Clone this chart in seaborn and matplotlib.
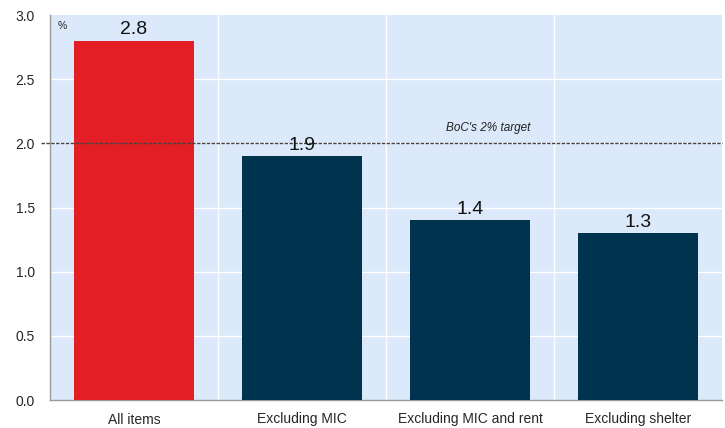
import matplotlib
matplotlib.use("Agg")
import matplotlib.pyplot as plt
import matplotlib.transforms as mtransforms
import seaborn as sns
import pandas as pd

categories = ["All items", "Excluding MIC", "Excluding MIC and rent", "Excluding shelter"]
values = [2.8, 1.9, 1.4, 1.3]
bar_colors = ["#E31E24", "#00334E", "#00334E", "#00334E"]
target = 2.0
y_ticks = [0.0, 0.5, 1.0, 1.5, 2.0, 2.5, 3.0]

sns.set_theme(style="white")
plt.rcParams["font.family"] = ["Liberation Sans", "DejaVu Sans"]

df = pd.DataFrame({"category": categories, "value": values})

fig = plt.figure(figsize=(7.25, 4.28), dpi=100)
ax = fig.add_axes([50 / 725, 1 - 400 / 428, 672 / 725, 385 / 428])
ax.set_facecolor("#DCE9FB")

sns.barplot(data=df, x="category", y="value", hue="category",
            palette=bar_colors, width=0.714, legend=False, ax=ax,
            saturation=1, zorder=3, linewidth=0, edgecolor="none")

ax.set_xlim(-0.5, len(categories) - 0.5)
ax.set_ylim(0, 3.0)
ax.set_yticks(y_ticks)
ax.set_yticklabels([f"{t:.1f}" for t in y_ticks], fontsize=10)

# category separators on the x axis
bounds = [i - 0.5 for i in range(len(categories) + 1)]
ax.set_xticks(bounds, minor=True)
ax.set_xticks(range(len(categories)))
ax.set_xticklabels(categories, fontsize=10)
ax.tick_params(axis="x", which="major", length=0, pad=9)
ax.tick_params(axis="x", which="minor", length=5, color="#999999", direction="out")
ax.tick_params(axis="y", length=5, color="#999999", direction="out", pad=6)
ax.set_xlabel("")
ax.set_ylabel("")

for b in bounds[1:-1]:
    ax.axvline(b, color="white", lw=1, zorder=1)
for t in y_ticks[1:-1]:
    ax.axhline(t, color="white", lw=1, zorder=1)

for s in ["top", "right"]:
    ax.spines[s].set_visible(False)
for s in ["left", "bottom"]:
    ax.spines[s].set_color("#999999")
    ax.spines[s].set_linewidth(1)

# inflation target line, running out over the tick marks
trans = mtransforms.blended_transform_factory(ax.transAxes, ax.transData)
ax.plot([-0.013, 1.0], [target, target], transform=trans, color="#444444",
        lw=1, ls=(0, (2.5, 1)), zorder=4, clip_on=False)
ax.text(2.107, target + 0.075, "BoC's 2% target", fontsize=8.5, style="italic",
        ha="center", va="bottom", color="#222222")

for i, v in enumerate(values):
    ax.text(i, v + 0.02, f"{v:.1f}", ha="center", va="bottom", fontsize=14,
            color="#111111", zorder=5)

ax.text(0.012, 0.985, "%", transform=ax.transAxes, fontsize=7.5, ha="left", va="top")

fig.savefig("out.png", dpi=100)
